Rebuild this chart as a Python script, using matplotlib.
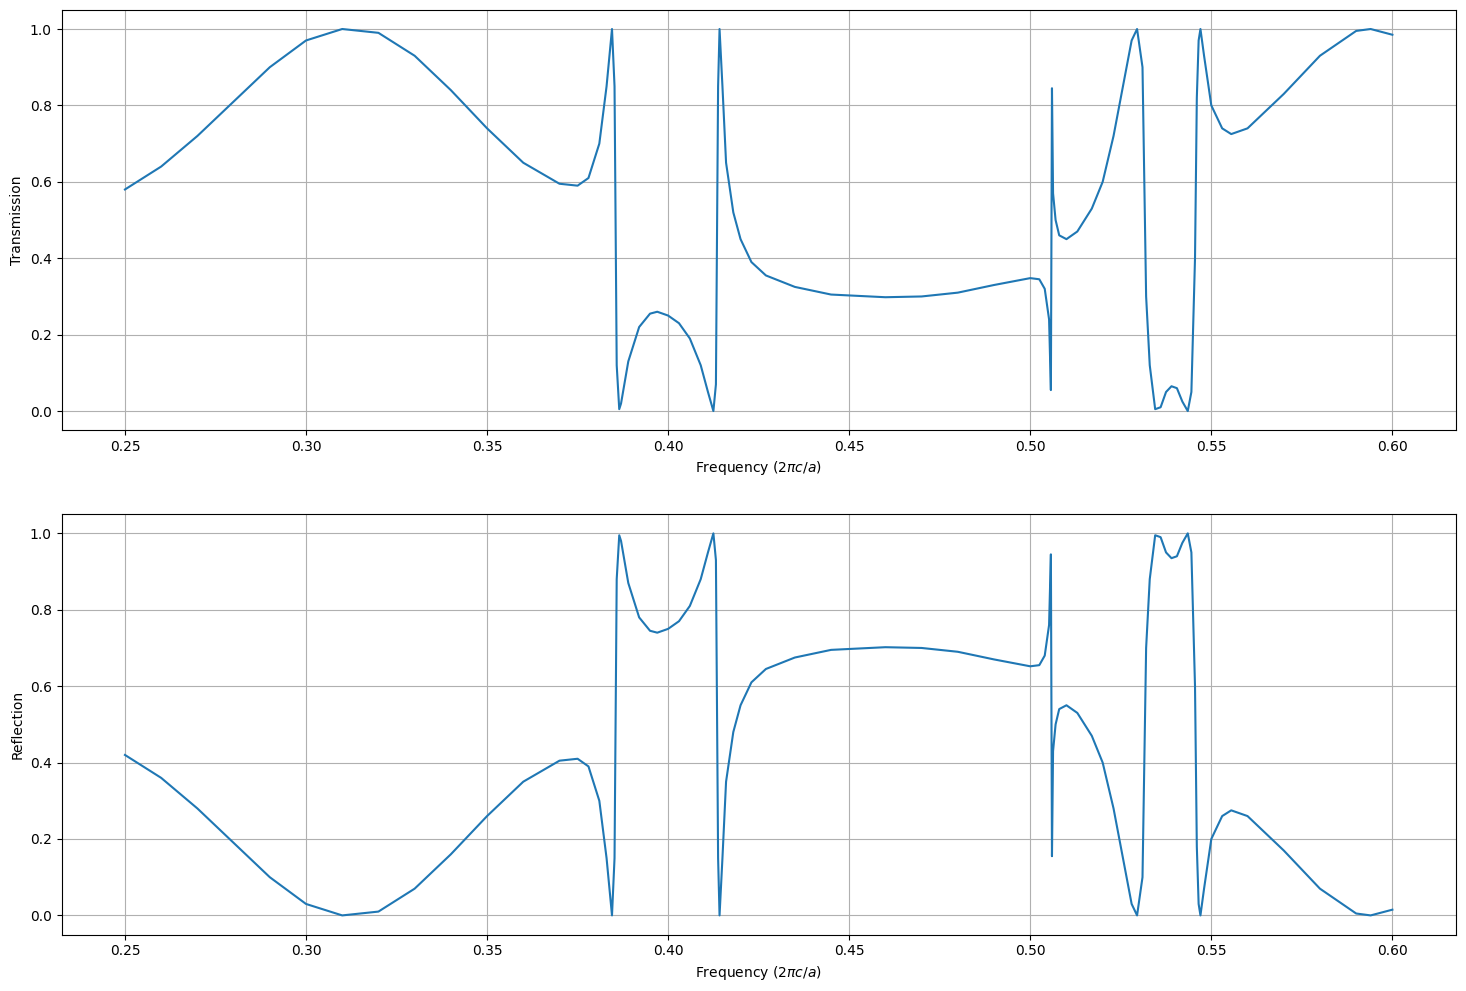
import matplotlib
matplotlib.use("Agg")
import matplotlib.pyplot as plt

freq = [0.25,0.26,0.27,0.28,0.29,0.30,0.31,0.32,0.33,0.34,0.35,0.36,0.37,0.375,0.378,0.381,0.383,0.3845,0.3852,0.3858,0.3865,0.387,0.389,0.392,0.395,0.397,0.400,0.403,0.406,0.409,0.411,0.4125,0.4132,0.4138,0.4142,0.4150,0.416,0.418,0.420,0.423,0.427,0.435,0.445,0.46,0.47,0.48,0.49,0.50,0.5025,0.504,0.5052,0.5057,0.5060,0.5063,0.507,0.508,0.510,0.513,0.517,0.520,0.523,0.526,0.528,0.5295,0.531,0.5315,0.532,0.533,0.5345,0.536,0.5375,0.539,0.5405,0.542,0.5435,0.5445,0.5455,0.546,0.5465,0.547,0.548,0.550,0.553,0.5555,0.56,0.57,0.58,0.59,0.594,0.60]
trans = [0.58,0.64,0.72,0.81,0.90,0.97,1.00,0.99,0.93,0.84,0.74,0.65,0.595,0.59,0.61,0.70,0.85,1.00,0.85,0.12,0.005,0.02,0.13,0.22,0.255,0.26,0.25,0.23,0.19,0.12,0.05,0.0,0.07,0.85,1.00,0.85,0.65,0.52,0.45,0.39,0.355,0.325,0.305,0.298,0.30,0.31,0.33,0.348,0.345,0.32,0.24,0.055,0.845,0.57,0.50,0.46,0.45,0.47,0.53,0.60,0.72,0.87,0.97,1.00,0.90,0.6,0.30,0.12,0.005,0.01,0.05,0.065,0.06,0.025,0.0,0.05,0.4,0.82,0.97,1.00,0.93,0.80,0.74,0.725,0.74,0.83,0.93,0.995,1.00,0.985]
refl = [0.42,0.36,0.28,0.19,0.10,0.03,0.00,0.01,0.07,0.16,0.26,0.35,0.405,0.41,0.39,0.30,0.15,0.00,0.15,0.88,0.995,0.98,0.87,0.78,0.745,0.74,0.75,0.77,0.81,0.88,0.95,1.00,0.93,0.15,0.00,0.15,0.35,0.48,0.55,0.61,0.645,0.675,0.695,0.702,0.70,0.69,0.67,0.652,0.655,0.68,0.76,0.945,0.155,0.43,0.50,0.54,0.55,0.53,0.47,0.40,0.28,0.13,0.03,0.00,0.10,0.4,0.70,0.88,0.995,0.99,0.95,0.935,0.94,0.975,1.00,0.95,0.6,0.18,0.03,0.00,0.07,0.20,0.26,0.275,0.26,0.17,0.07,0.005,0.00,0.015]

fig, axes = plt.subplots(2, 1, figsize=(14.66, 9.91), dpi=100)
for ax, y, lab in zip(axes, [trans, refl], ["Transmission", "Reflection"]):
    ax.plot(freq, y, color="#1f77b4", lw=1.5)
    ax.set_xlabel(r"Frequency ($2\pi c/a$)")
    ax.set_ylabel(lab)
    ax.grid(True)
    ax.set_ylim(-0.05, 1.05)
    ax.set_xlim(0.2325, 0.6175)
fig.subplots_adjust(left=0.042, right=0.993, top=0.99, bottom=0.057, hspace=0.2)
fig.savefig("out.png", dpi=100)
